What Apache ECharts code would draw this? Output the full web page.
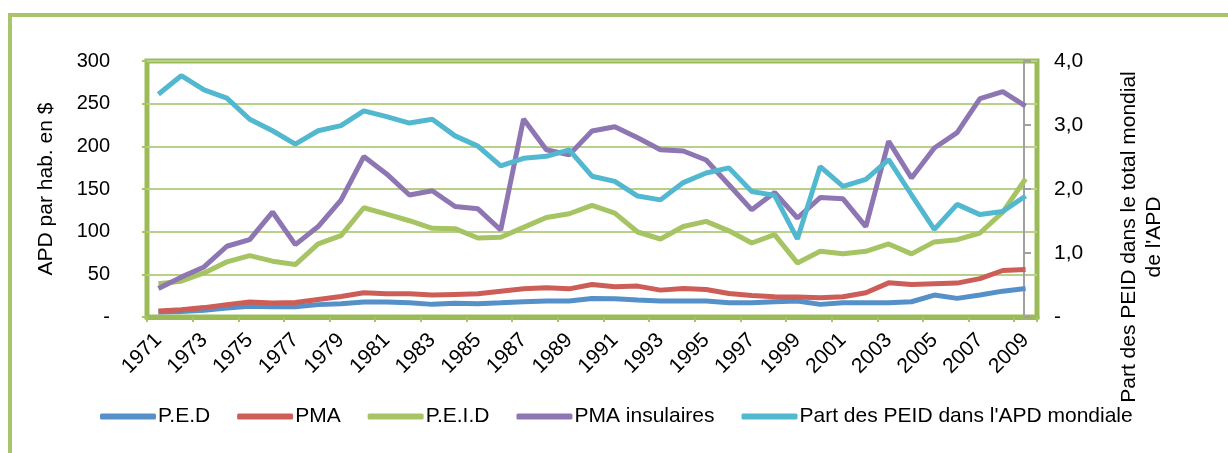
<!DOCTYPE html>
<html>
<head>
<meta charset="utf-8">
<script src="https://cdn.jsdelivr.net/npm/echarts@6/dist/echarts.min.js"></script>
<style>
  html, body { margin: 0; padding: 0; background: #fff; }
  #chart { width: 1228px; height: 453px; }
</style>
</head>
<body>
<div id="chart"></div>
<script>
// années 1971-2009
var years = [];
for (var y = 1971; y <= 2009; y++) years.push(String(y));

var ped = [6, 6.5, 8, 10.5, 12.5, 12, 12, 14.5, 15.5, 17.5,
  17.5, 16.7, 14.8, 16, 15.6, 16.7, 17.9, 18.7, 18.7, 21.8,
  21.4, 19.8, 18.7, 18.7, 18.7, 16.7, 16.7, 17.9, 18.7,
  14.8, 16.7, 16.7, 16.7, 17.9, 25.7, 21.8, 25.7, 30.3, 33.5];

var pma = [7, 8.5, 11, 14.5, 17.5, 16.5, 17, 20.5, 24, 28.5,
  27.2, 27.2, 25.7, 26.5, 27.2, 30.3, 33, 34.2, 33, 38.1,
  35.4, 36.2, 31.5, 33.5, 32.3, 27.6, 25.3, 23.7, 23.3,
  22.6, 23.7, 28.4, 40, 38, 38.9, 39.7, 45, 54.5, 55.6];

var peid = [38.9, 42, 51.7, 64.6, 72, 65.4, 61.5, 85.6, 95.3, 128,
  120.6, 112.8, 104, 103.5, 92.6, 93.4, 105, 116.7, 121, 130.7,
  121.8, 99.6, 91.4, 106, 112, 101, 86.7, 96.5, 63.4,
  77, 74, 77, 85.6, 74, 88, 90.6, 98.4, 123, 162];

var pmaIns = [33.5, 46.7, 58.7, 82.9, 90.6, 123, 84.8, 106, 137, 188,
  167.7, 143, 148, 129.5, 126.8, 102, 232, 196, 190, 218,
  223, 210, 196, 194.5, 184, 155, 125.6, 146, 116,
  140, 138.5, 106, 206, 163, 198, 216, 256, 264, 247];

var partPeid = [3.48, 3.77, 3.55, 3.42, 3.09, 2.91, 2.70, 2.91, 2.99, 3.22,
  3.13, 3.03, 3.09, 2.83, 2.67, 2.36, 2.48, 2.51, 2.61, 2.20,
  2.12, 1.89, 1.83, 2.10, 2.25, 2.33, 1.96, 1.90, 1.22,
  2.35, 2.04, 2.15, 2.46, 1.91, 1.37, 1.76, 1.60, 1.65, 1.89];

var font = 'Liberation Sans, Arial, sans-serif';
var green = '#A6C463';

function line(name, data, color, axis) {
  return {
    name: name,
    type: 'line',
    data: data,
    yAxisIndex: axis || 0,
    symbol: 'none',
    lineStyle: { width: 5, color: color },
    itemStyle: { color: color }
  };
}

var chart = echarts.init(document.getElementById('chart'));
chart.setOption({
  animation: false,
  textStyle: { fontFamily: font },
  graphic: [
    {
      type: 'rect',
      shape: { x: 10, y: 15, width: 1400, height: 600 },
      style: { fill: 'none', stroke: '#A9C46B', lineWidth: 4 }
    },
    {
      type: 'text',
      x: 1142, y: 237,
      rotation: Math.PI / 2,
      style: {
        text: "Part des PEID dans le total mondial\nde l'APD",
        font: '21px Liberation Sans, Arial, sans-serif',
        fill: '#000',
        align: 'center',
        verticalAlign: 'middle',
        lineHeight: 25
      }
    }
  ],
  grid: {
    left: 147, top: 61, right: 191, bottom: 136,
    show: true, borderColor: '#9BBB59', borderWidth: 5, backgroundColor: 'transparent'
  },
  legend: {
    left: 95, top: 401,
    icon: 'roundRect',
    itemWidth: 56, itemHeight: 6,
    itemGap: 27,
    textStyle: { fontSize: 21, color: '#000', fontFamily: font, padding: [0, 0, 0, -3] },
    data: ['P.E.D', 'PMA', 'P.E.I.D', 'PMA insulaires', "Part des PEID dans l'APD mondiale"]
  },
  xAxis: {
    type: 'category',
    data: years,
    boundaryGap: true,
    axisLine: { lineStyle: { color: '#9BBB59', width: 5 } },
    axisTick: { show: true, length: 5, lineStyle: { color: green, width: 2 } },
    axisLabel: { rotate: 45, interval: 1, fontSize: 21, color: '#000', margin: 20, fontFamily: font }
  },
  yAxis: [
    {
      type: 'value', min: 0, max: 300, interval: 50,
      name: 'APD par hab. en $',
      nameLocation: 'middle', nameGap: 90,
      nameTextStyle: { fontSize: 21, color: '#000', fontFamily: font },
      axisLine: { show: false },
      axisTick: { show: true, length: 5, lineStyle: { color: green, width: 2 } },
      axisLabel: {
        fontSize: 20, color: '#000', margin: 37, fontFamily: font,
        formatter: function (v) { return v === 0 ? '-' : String(v); }
      },
      splitLine: { lineStyle: { color: '#B9D08A', width: 2 } }
    },
    {
      type: 'value', min: 0, max: 4, interval: 1,
      position: 'right', offset: -13,
      axisLine: { show: true, lineStyle: { color: '#A0A0A0', width: 2 } },
      axisTick: { show: true, length: 7, lineStyle: { color: '#A0A0A0', width: 2 } },
      axisLabel: {
        fontSize: 21, color: '#000', margin: 30, fontFamily: font,
        formatter: function (v) { return v === 0 ? '-' : v.toFixed(1).replace('.', ','); }
      },
      splitLine: { show: false }
    }
  ],
  series: [
    line('P.E.D', ped, '#5590C8'),
    line('PMA', pma, '#CC5E57'),
    line('P.E.I.D', peid, '#A6C463'),
    line('PMA insulaires', pmaIns, '#8E76B2'),
    line("Part des PEID dans l'APD mondiale", partPeid, '#52B8D0', 1)
  ]
});
</script>
</body>
</html>
